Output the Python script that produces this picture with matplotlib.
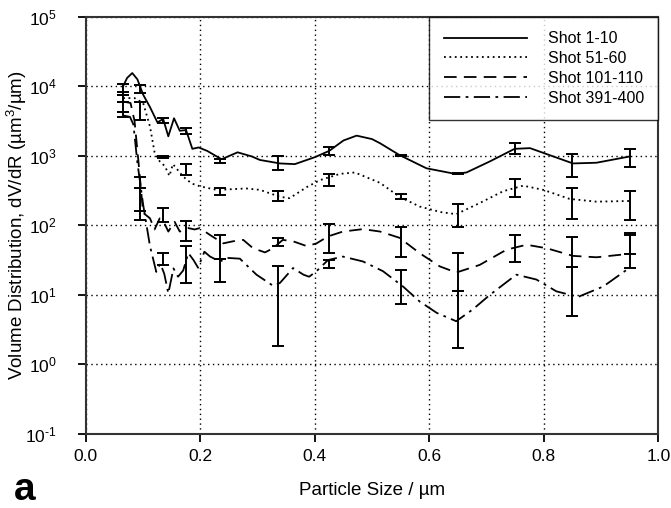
import matplotlib.pyplot as plt
import numpy as np

plt.rcParams['font.family'] = ['Liberation Sans', 'DejaVu Sans']
plt.rcParams['mathtext.fontset'] = 'custom'
plt.rcParams['mathtext.rm'] = 'Liberation Sans'
plt.rcParams['mathtext.it'] = 'Liberation Sans:italic'
plt.rcParams['mathtext.default'] = 'regular'
plt.rcParams['axes.unicode_minus'] = False

LINE_COLOR = "black"
GRID_STYLE = (0, (1, 2.5))

x1 = [0.065, 0.072, 0.081, 0.090, 0.100, 0.112, 0.125, 0.135, 0.144, 0.154,
      0.164, 0.175, 0.186, 0.197, 0.212, 0.237, 0.265, 0.290, 0.304, 0.339,
      0.365, 0.400, 0.425, 0.450, 0.473, 0.500, 0.514, 0.548, 0.595, 0.645,
      0.665, 0.706, 0.749, 0.776, 0.810, 0.851, 0.892, 0.950]
y1 = [4.00, 4.12, 4.19, 4.10, 3.88, 3.70, 3.48, 3.53, 3.28, 3.54,
      3.36, 3.37, 3.10, 3.12, 3.07, 2.95, 3.05, 2.99, 2.94, 2.89,
      2.88, 2.98, 3.07, 3.22, 3.29, 3.24, 3.18, 3.01, 2.82, 2.74,
      2.76, 2.92, 3.10, 3.11, 3.01, 2.89, 2.90, 2.99]

x2 = [0.065, 0.085, 0.100, 0.112, 0.120, 0.129, 0.138, 0.146, 0.152, 0.160,
      0.170, 0.185, 0.200, 0.228, 0.257, 0.280, 0.304, 0.339, 0.356, 0.386,
      0.409, 0.444, 0.470, 0.514, 0.548, 0.583, 0.620, 0.647, 0.688, 0.729,
      0.764, 0.799, 0.845, 0.892, 0.950]
y2 = [3.83, 3.83, 3.76, 3.42, 3.05, 2.92, 2.85, 2.71, 2.88, 2.80,
      2.70, 2.60, 2.56, 2.51, 2.52, 2.53, 2.51, 2.41, 2.39, 2.55,
      2.65, 2.74, 2.76, 2.61, 2.41, 2.27, 2.19, 2.16, 2.32, 2.49,
      2.57, 2.51, 2.38, 2.34, 2.35]

x3 = [0.065, 0.078, 0.085, 0.092, 0.100, 0.112, 0.120, 0.129, 0.136, 0.144,
      0.155, 0.164, 0.179, 0.190, 0.199, 0.217, 0.240, 0.257, 0.275, 0.292,
      0.313, 0.327, 0.344, 0.362, 0.386, 0.403, 0.423, 0.449, 0.484, 0.514,
      0.548, 0.583, 0.618, 0.647, 0.688, 0.735, 0.770, 0.805, 0.851, 0.892,
      0.950]
y3 = [3.78, 3.76, 3.50, 2.90, 2.18, 2.10, 1.94, 2.10, 2.05, 1.91,
      2.05, 1.91, 1.96, 1.94, 1.96, 1.86, 1.74, 1.77, 1.79, 1.67,
      1.61, 1.67, 1.79, 1.77, 1.70, 1.74, 1.84, 1.91, 1.945, 1.91,
      1.82, 1.60, 1.41, 1.32, 1.43, 1.65, 1.72, 1.67, 1.56, 1.54,
      1.59]

x4 = [0.065, 0.077, 0.083, 0.090, 0.100, 0.112, 0.123, 0.130, 0.137, 0.144,
      0.153, 0.161, 0.170, 0.179, 0.188, 0.196, 0.207, 0.217, 0.234, 0.249,
      0.269, 0.298, 0.327, 0.339, 0.362, 0.380, 0.390, 0.403, 0.423, 0.449,
      0.484, 0.519, 0.554, 0.583, 0.613, 0.647, 0.676, 0.706, 0.752, 0.787,
      0.822, 0.860, 0.904, 0.950]
y4 = [3.58, 3.56, 3.45, 2.90, 2.30, 1.70, 1.33, 1.45, 1.30, 1.02,
      1.38, 1.26, 1.35, 1.60, 1.50, 1.39, 1.62, 1.55, 1.48, 1.53,
      1.52, 1.29, 1.13, 1.17, 1.385, 1.29, 1.26, 1.34, 1.50, 1.55,
      1.48, 1.34, 1.12, 0.905, 0.74, 0.62, 0.79, 1.00, 1.29, 1.22,
      1.05, 0.97, 1.12, 1.39]

# error bar positions and low / high ends (decades)
err_x = [0.065, 0.095, 0.135, 0.175, 0.235, 0.335, 0.425, 0.55, 0.65, 0.75, 0.85, 0.95]
err1_lo = [3.875, 3.90, 3.47, 3.31, 2.90, 2.80, 3.01, 2.99, 2.74, 3.03, 2.70, 2.845]
err1_hi = [4.026, 4.02, 3.54, 3.40, 2.95, 2.99, 3.13, 3.01, 2.755, 3.18, 3.03, 3.10]
err2_lo = [3.78, 3.52, 2.97, 2.72, 2.44, 2.35, 2.56, 2.38, 1.98, 2.40, 2.09, 2.08]
err2_hi = [3.92, 3.78, 3.00, 2.88, 2.53, 2.50, 2.74, 2.45, 2.31, 2.67, 2.53, 2.49]
err3_lo = [3.635, 2.20, 2.05, 1.77, 1.515, 1.70, 1.60, 1.54, 1.05, 1.47, 1.40, 1.59]
err3_hi = [3.875, 2.70, 2.25, 2.065, 1.86, 1.82, 2.02, 1.98, 1.60, 1.86, 1.83, 1.89]
err4_lo = [3.565, 2.07, 1.43, 1.17, 1.19, 0.27, 1.39, 0.87, 0.236, np.nan, 0.70, 1.39]
err4_hi = [3.635, 2.53, 1.60, 1.70, 1.515, 1.41, 1.50, 1.35, 1.05, np.nan, 1.40, 1.86]

labels = ["Shot 1-10", "Shot 51-60", "Shot 101-110", "Shot 391-400"]
styles = ["-", (0, (1, 2)), (0, (7, 4)), (0, (9, 3, 1.5, 3))]
decades = [-1, 0, 1, 2, 3, 4, 5]


def draw_errors(ax, xs, lo, hi):
    xs = np.array(xs)
    lo = np.array(lo, dtype=float)
    hi = np.array(hi, dtype=float)
    ok = np.isfinite(lo)
    lo_v = 10 ** lo[ok]
    hi_v = 10 ** hi[ok]
    mid = np.sqrt(lo_v * hi_v)
    ax.errorbar(xs[ok], mid, yerr=[mid - lo_v, hi_v - mid], fmt="none",
                ecolor=LINE_COLOR, elinewidth=1.4, capsize=4.5, capthick=1.4)


def plot():
    fig = plt.figure(figsize=(6.71, 5.08), dpi=100, facecolor="white")
    ax = fig.add_axes([0.128, 0.146, 0.853, 0.821])

    series = [(x1, y1), (x2, y2), (x3, y3), (x4, y4)]
    for (xs, ys), lab, ls in zip(series, labels, styles):
        ax.plot(xs, 10 ** np.array(ys), color=LINE_COLOR, linestyle=ls,
                linewidth=1.3, label=lab)

    draw_errors(ax, err_x, err1_lo, err1_hi)
    draw_errors(ax, err_x, err2_lo, err2_hi)
    draw_errors(ax, err_x, err3_lo, err3_hi)
    draw_errors(ax, err_x, err4_lo, err4_hi)

    ax.set_yscale("log")
    ax.set_ylim(1e-1, 1e5)
    ax.set_xlim(0, 1.0)
    ax.set_xticks([0.0, 0.2, 0.4, 0.6, 0.8, 1.0])
    ax.set_xticklabels(["0.0", "0.2", "0.4", "0.6", "0.8", "1.0"])
    ax.set_yticks([10.0 ** d for d in decades])
    ax.set_yticklabels(["$10^{%d}$" % d if d >= 0 else "$10^{\\text{-}%d}$" % -d
                        for d in decades])
    ax.yaxis.set_minor_locator(plt.NullLocator())

    ax.grid(True, color="black", linestyle=GRID_STYLE, linewidth=1)
    ax.set_axisbelow(True)
    ax.tick_params(axis="both", which="major", direction="out", length=6,
                   width=1.3, labelsize=12.5)
    ax.tick_params(axis="x", pad=5)
    ax.tick_params(axis="y", pad=15)
    for sp in ax.spines.values():
        sp.set_linewidth(1.5)
        sp.set_color("#333333")

    ax.set_xlabel("Particle Size / µm", fontsize=13.5, labelpad=13)
    ax.set_ylabel("Volume Distribution, dV/dR (µm$^3$/µm)", fontsize=13.5)
    ax.yaxis.set_label_coords(-0.1, 0.5)

    leg = ax.legend(loc="upper right", fontsize=11.5, frameon=True, fancybox=False,
                    borderaxespad=0, handlelength=5.2, handletextpad=1.3,
                    labelspacing=0.3, borderpad=0.9)
    leg.get_frame().set_edgecolor("black")
    leg.get_frame().set_linewidth(1.0)

    fig.text(0.02, 0.015, "a", fontsize=28, fontweight="bold")

    fig.savefig("out.png", dpi=100)


if __name__ == "__main__":
    plot()
